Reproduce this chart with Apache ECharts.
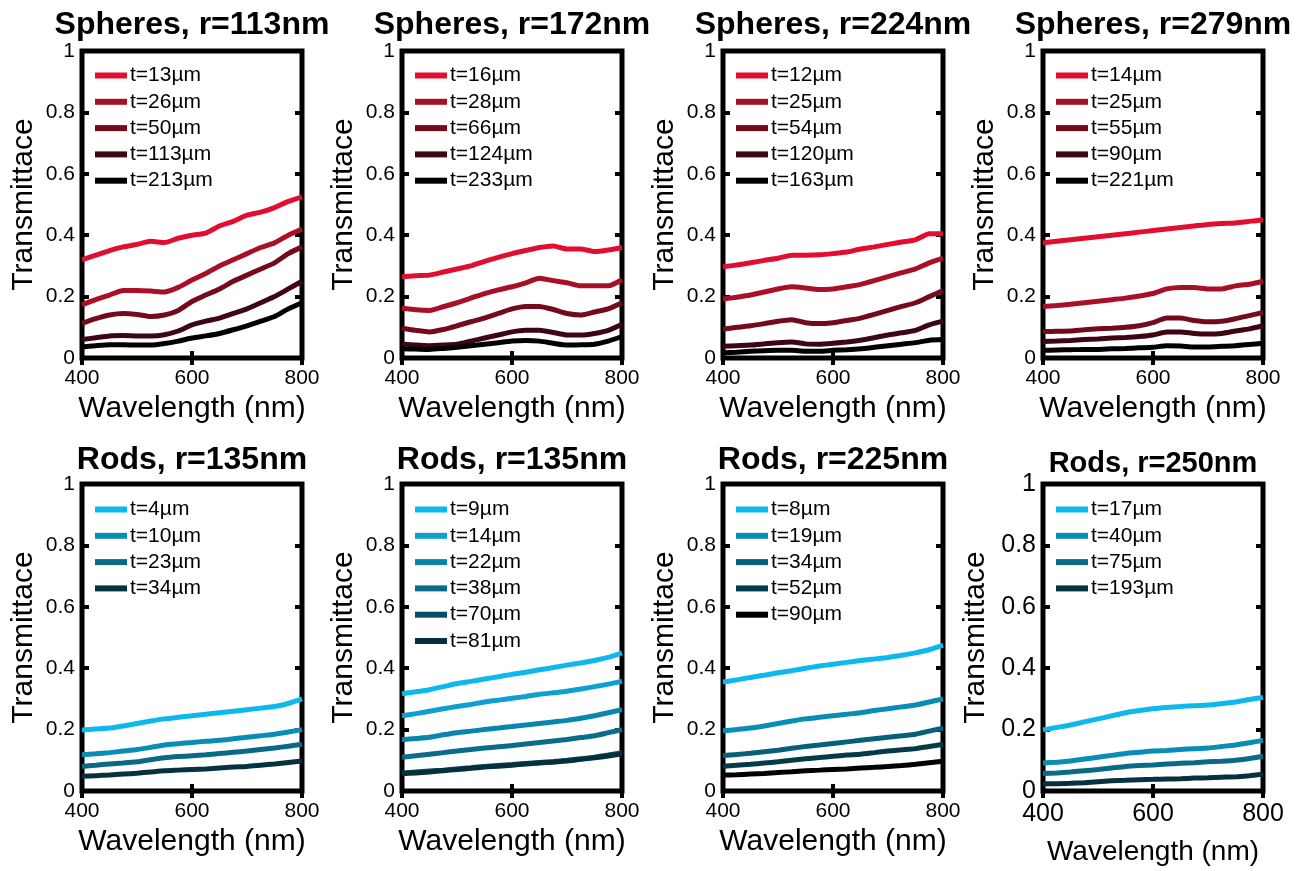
<!DOCTYPE html>
<html>
<head>
<meta charset="utf-8">
<script src="https://cdn.jsdelivr.net/npm/echarts@6/dist/echarts.min.js"></script>
<style>
html, body { margin: 0; padding: 0; background: #fff; }
#main { width: 1308px; height: 871px; }
</style>
</head>
<body>
<div id="main"></div>
<script>
// wavelength grid (nm), shared by every curve
var wl = [400, 425, 450, 475, 500, 525, 550, 575, 600, 625, 650, 675, 700, 725, 750, 775, 800];

var xTicks = [400, 600, 800];
var yTicks = [0, 0.2, 0.4, 0.6, 0.8, 1];

var titles = ['Spheres, r=113nm', 'Spheres, r=172nm', 'Spheres, r=224nm', 'Spheres, r=279nm',
              'Rods, r=135nm', 'Rods, r=135nm', 'Rods, r=225nm', 'Rods, r=250nm'];

// --- spheres ---
var sph113Labels = ['t=13µm', 't=26µm', 't=50µm', 't=113µm', 't=213µm'];
var sph113Vals = [
  [.32, .335, .35, .362, .37, .38, .376, .39, .40, .407, .43, .445, .465, .475, .49, .51, .525],
  [.173, .19, .205, .22, .22, .218, .215, .23, .254, .275, .30, .32, .34, .36, .375, .40, .42],
  [.113, .128, .14, .145, .142, .135, .14, .155, .184, .205, .225, .25, .27, .29, .31, .34, .362],
  [.06, .066, .072, .073, .072, .072, .076, .088, .108, .12, .13, .145, .16, .18, .20, .225, .25],
  [.036, .04, .043, .043, .042, .042, .047, .055, .065, .072, .08, .092, .105, .12, .135, .16, .18]
];

var sph172Labels = ['t=16µm', 't=28µm', 't=66µm', 't=124µm', 't=233µm'];
var sph172Vals = [
  [.265, .268, .27, .28, .29, .30, .315, .328, .34, .35, .36, .365, .355, .355, .347, .352, .36],
  [.162, .157, .155, .167, .18, .195, .21, .222, .232, .245, .26, .252, .245, .235, .235, .235, .255],
  [.097, .09, .085, .093, .105, .118, .13, .145, .16, .168, .168, .158, .145, .14, .15, .16, .18],
  [.046, .042, .04, .042, .045, .055, .065, .075, .085, .09, .09, .083, .075, .075, .08, .09, .11],
  [.03, .029, .028, .031, .035, .04, .045, .05, .055, .057, .055, .048, .042, .043, .045, .055, .07]
];

var sph224Labels = ['t=12µm', 't=25µm', 't=54µm', 't=120µm', 't=163µm'];
var sph224Vals = [
  [.297, .303, .31, .318, .325, .335, .335, .336, .34, .345, .355, .362, .37, .378, .385, .405, .405],
  [.192, .198, .205, .215, .225, .232, .228, .223, .225, .232, .24, .252, .265, .278, .29, .31, .325],
  [.094, .10, .105, .112, .12, .125, .115, .112, .115, .122, .13, .142, .155, .168, .18, .20, .22],
  [.038, .04, .042, .046, .05, .052, .046, .045, .048, .052, .058, .066, .075, .082, .09, .108, .12],
  [.017, .019, .022, .024, .025, .025, .022, .022, .025, .027, .03, .035, .04, .045, .05, .058, .06]
];

var sph279Labels = ['t=14µm', 't=25µm', 't=55µm', 't=90µm', 't=221µm'];
var sph279Vals = [
  [.375, .38, .385, .39, .395, .40, .405, .41, .415, .42, .425, .43, .435, .438, .44, .445, .45],
  [.168, .171, .175, .18, .185, .19, .195, .202, .21, .225, .23, .23, .225, .225, .235, .24, .25],
  [.086, .087, .088, .092, .095, .097, .10, .105, .115, .13, .13, .122, .118, .12, .128, .138, .148],
  [.054, .055, .057, .06, .062, .065, .067, .07, .075, .085, .085, .08, .078, .08, .088, .095, .105],
  [.025, .026, .027, .028, .028, .03, .031, .033, .035, .04, .039, .036, .036, .038, .04, .044, .048]
];

// --- rods ---
var rod135aLabels = ['t=4µm', 't=10µm', 't=23µm', 't=34µm'];
var rod135aVals = [
  [.199, .202, .205, .212, .22, .228, .235, .24, .245, .25, .255, .26, .265, .27, .275, .285, .30],
  [.118, .121, .125, .13, .135, .142, .15, .154, .158, .162, .165, .17, .175, .18, .185, .192, .20],
  [.08, .084, .088, .091, .095, .102, .108, .112, .115, .118, .122, .126, .13, .135, .14, .146, .152],
  [.048, .05, .052, .055, .058, .062, .066, .068, .07, .072, .075, .078, .08, .084, .088, .093, .098]
];

var rod135bLabels = ['t=9µm', 't=14µm', 't=22µm', 't=38µm', 't=70µm', 't=81µm'];
var rod135bVals = [
  [.317, .323, .33, .34, .35, .357, .365, .372, .38, .387, .395, .402, .41, .417, .425, .435, .45],
  [.245, .252, .26, .268, .275, .282, .29, .296, .302, .308, .315, .32, .325, .332, .34, .348, .358],
  [.167, .171, .175, .183, .19, .195, .20, .205, .21, .215, .22, .225, .23, .237, .245, .255, .265],
  [.11, .115, .12, .125, .13, .135, .14, .144, .148, .153, .158, .163, .168, .174, .18, .19, .20],
  [.059, .062, .065, .068, .072, .076, .08, .083, .086, .09, .093, .096, .10, .105, .11, .117, .125],
  [.056, .059, .062, .066, .07, .074, .078, .081, .084, .088, .091, .094, .098, .103, .108, .114, .121]
];

var rod225Labels = ['t=8µm', 't=19µm', 't=34µm', 't=52µm', 't=90µm'];
var rod225Vals = [
  [.355, .362, .37, .377, .385, .392, .40, .407, .413, .419, .425, .43, .435, .442, .45, .46, .475],
  [.196, .20, .205, .212, .22, .228, .235, .24, .245, .25, .255, .262, .268, .274, .28, .29, .30],
  [.116, .119, .123, .128, .133, .139, .145, .15, .155, .16, .165, .17, .175, .18, .185, .195, .205],
  [.081, .084, .087, .091, .095, .10, .105, .109, .113, .117, .12, .125, .13, .134, .138, .145, .152],
  [.052, .053, .055, .057, .06, .063, .066, .068, .07, .072, .075, .077, .08, .083, .087, .092, .097]
];

var rod250Labels = ['t=17µm', 't=40µm', 't=75µm', 't=193µm'];
var rod250Vals = [
  [.199, .207, .215, .225, .235, .245, .255, .262, .268, .272, .275, .278, .28, .285, .29, .298, .305],
  [.091, .094, .098, .104, .11, .116, .122, .126, .13, .132, .135, .138, .14, .145, .15, .157, .165],
  [.057, .059, .062, .066, .07, .075, .08, .083, .085, .088, .09, .092, .095, .097, .10, .106, .113],
  [.024, .024, .025, .027, .03, .033, .035, .037, .038, .039, .04, .042, .043, .045, .046, .05, .055]
];

// colours
var reds5 = ['#E20E30', '#AA0F28', '#730B1C', '#3E0610', '#000000'];
var blues4 = ['#0DB9EC', '#0A8DB5', '#0A6A86', '#06323F'];
var blues6 = ['#0DB9EC', '#0DA0D0', '#0A86AE', '#0A6C8A', '#064F66', '#04303C'];
var blues5 = ['#0DB9EC', '#0A8DB5', '#07607A', '#053A48', '#000000'];

var panels = [
  { labels: sph113Labels, vals: sph113Vals, colors: reds5 },
  { labels: sph172Labels, vals: sph172Vals, colors: reds5 },
  { labels: sph224Labels, vals: sph224Vals, colors: reds5 },
  { labels: sph279Labels, vals: sph279Vals, colors: reds5 },
  { labels: rod135aLabels, vals: rod135aVals, colors: blues4 },
  { labels: rod135bLabels, vals: rod135bVals, colors: blues6 },
  { labels: rod225Labels, vals: rod225Vals, colors: blues5 },
  { labels: rod250Labels, vals: rod250Vals, colors: blues4 }
];

var FONT = '"Liberation Sans", Arial, Helvetica, sans-serif';
var colLeft = [82, 402, 723, 1043];
var rowTop = [51, 484];
var W = 220, H = 307;

var grids = [], xAxes = [], yAxes = [], series = [], legends = [], titleList = [];

panels.forEach(function (p, i) {
  var col = i % 4, row = Math.floor(i / 4);
  var big = (i === 7);
  var tickFont = big ? 25 : 21;
  var left = colLeft[col], top = rowTop[row];

  grids.push({ left: left, top: top, width: W, height: H, show: true,
    borderColor: '#000', borderWidth: 5, backgroundColor: 'transparent' });

  var tick = { show: true, inside: true, length: 7, lineStyle: { color: '#000', width: 4 } };

  xAxes.push({
    gridIndex: i, type: 'value', position: 'bottom',
    min: xTicks[0], max: xTicks[xTicks.length - 1], interval: xTicks[1] - xTicks[0],
    axisLine: { show: false }, splitLine: { show: false }, axisTick: tick,
    axisLabel: { color: '#000', fontSize: tickFont, fontFamily: FONT, margin: big ? 11 : 10 },
    name: 'Wavelength (nm)', nameLocation: 'middle', nameGap: big ? 47 : 36,
    nameTextStyle: { color: '#000', fontSize: big ? 28 : 30, fontFamily: FONT }
  });
  xAxes.push({
    gridIndex: i, type: 'value', position: 'top',
    min: xTicks[0], max: xTicks[xTicks.length - 1], interval: xTicks[1] - xTicks[0],
    axisLine: { show: false }, splitLine: { show: false }, axisTick: tick,
    axisLabel: { show: false }
  });
  yAxes.push({
    gridIndex: i, type: 'value', position: 'left',
    min: yTicks[0], max: yTicks[yTicks.length - 1], interval: yTicks[1] - yTicks[0],
    axisLine: { show: false }, splitLine: { show: false }, axisTick: tick,
    axisLabel: { color: '#000', fontSize: tickFont, fontFamily: FONT, margin: 7 },
    name: 'Transmittace', nameLocation: 'middle', nameRotate: 90, nameGap: big ? 52 : 43,
    nameTextStyle: { color: '#000', fontSize: 30, fontFamily: FONT }
  });
  yAxes.push({
    gridIndex: i, type: 'value', position: 'right',
    min: yTicks[0], max: yTicks[yTicks.length - 1], interval: yTicks[1] - yTicks[0],
    axisLine: { show: false }, splitLine: { show: false }, axisTick: tick,
    axisLabel: { show: false }
  });

  var names = [];
  p.labels.forEach(function (lab, j) {
    var nm = 'p' + i + '|' + lab;
    names.push({ name: nm, itemStyle: { color: p.colors[j] } });
    series.push({
      name: nm, type: 'line', xAxisIndex: 2 * i, yAxisIndex: 2 * i,
      showSymbol: false, symbol: 'none', smooth: 0.2,
      lineStyle: { color: p.colors[j], width: 5 },
      itemStyle: { color: p.colors[j] },
      data: wl.map(function (w, k) { return [w, p.vals[j][k]]; })
    });
  });

  legends.push({
    orient: 'vertical', left: left + 13, top: top + 14 + (row === 1 ? 1 : 0),
    itemWidth: 32, itemHeight: 6, itemGap: 5.3, icon: 'rect', selectedMode: false,
    padding: 0, data: names,
    formatter: function (n) { return n.split('|')[1]; },
    textStyle: { color: '#000', fontSize: 21, fontFamily: FONT, lineHeight: 21, padding: [0, 0, 0, -2] }
  });

  titleList.push({
    text: titles[i], left: left + W / 2, textAlign: 'center',
    top: row === 0 ? 9 : (big ? 449 : 444), padding: 0,
    textStyle: { color: '#000', fontWeight: 'bold', fontSize: big ? 29 : 32, fontFamily: FONT }
  });
});

var myChart = echarts.init(document.getElementById('main'));
var option = {
  animation: false,
  backgroundColor: '#fff',
  textStyle: { fontFamily: FONT },
  title: titleList,
  legend: legends,
  grid: grids,
  xAxis: xAxes,
  yAxis: yAxes,
  series: series
};
myChart.setOption(option, true);
</script>
</body>
</html>
